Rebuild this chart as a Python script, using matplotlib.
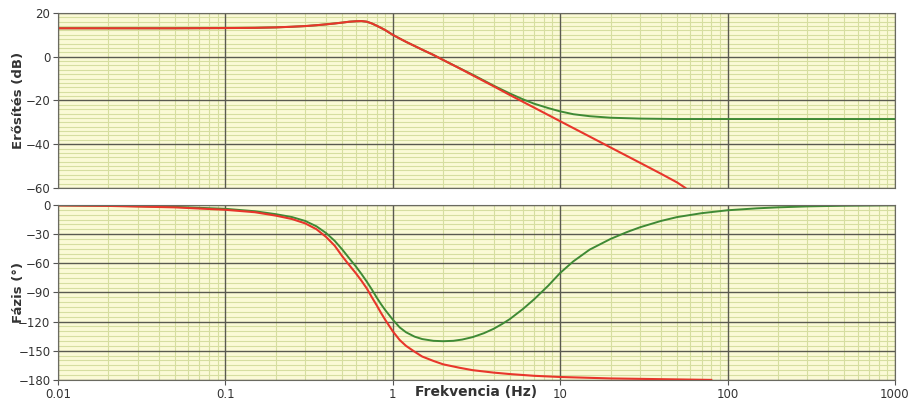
import numpy as np
import matplotlib.pyplot as plt
from matplotlib.ticker import MultipleLocator, LogLocator

# red curve
f_red = [0.01, 0.02, 0.05, 0.1, 0.15, 0.2, 0.25, 0.3, 0.35, 0.4, 0.45, 0.5, 0.55, 0.6, 0.65,
         0.7, 0.75, 0.8, 0.85, 0.9, 1.0, 1.1, 1.2, 1.35, 1.5, 1.75, 2, 2.5, 3, 4, 5, 7, 10,
         15, 20, 30, 40, 50, 56]
mag_red = [13, 13, 13, 13.1, 13.2, 13.4, 13.7, 14.0, 14.4, 14.8, 15.2, 15.6, 16.0, 16.2, 16.3,
           16.0, 15.2, 14.2, 13.2, 12.2, 10.0, 8.3, 6.8, 4.9, 3.2, 0.8, -1.5, -5.3, -8.5,
           -13.5, -17.5, -23.3, -29.5, -36.5, -41.5, -48.5, -53.5, -57.5, -60]

f_red_ph = [0.01, 0.02, 0.05, 0.1, 0.15, 0.2, 0.25, 0.3, 0.35, 0.4, 0.45, 0.5, 0.55, 0.6,
            0.65, 0.7, 0.75, 0.8, 0.85, 0.9, 1.0, 1.1, 1.2, 1.35, 1.5, 1.75, 2, 2.5, 3, 4,
            5, 7, 10, 20, 50, 80]
ph_red = [-0.5, -1, -2.5, -5, -7.5, -11, -14.5, -19, -25, -33, -42, -53, -62, -70,
          -78, -86, -95, -103, -111, -118, -130, -139, -145, -151, -156, -160.5, -164,
          -167.5, -170, -172.5, -174, -175.8, -177, -178.5, -179.5, -180]

# green curve
f_grn = [0.01, 0.02, 0.05, 0.1, 0.15, 0.2, 0.25, 0.3, 0.35, 0.4, 0.45, 0.5, 0.55, 0.6, 0.65,
         0.7, 0.75, 0.8, 0.85, 0.9, 1.0, 1.1, 1.2, 1.35, 1.5, 1.75, 2, 2.5, 3, 4, 5, 6, 7,
         8.5, 10, 12, 15, 20, 30, 50, 100, 200, 500, 1000]
mag_grn = [13, 13, 13, 13.1, 13.2, 13.4, 13.7, 14.0, 14.4, 14.8, 15.2, 15.6, 16.0, 16.2, 16.3,
           16.0, 15.2, 14.2, 13.2, 12.2, 10.0, 8.3, 6.8, 4.9, 3.2, 0.8, -1.5, -5.2, -8.2,
           -13.2, -16.8, -19.5, -21.5, -23.5, -25, -26.3, -27.2, -27.9, -28.3, -28.5,
           -28.5, -28.5, -28.5, -28.5]

f_grn_ph = [0.01, 0.02, 0.05, 0.1, 0.15, 0.2, 0.25, 0.3, 0.35, 0.4, 0.45, 0.5, 0.55, 0.6,
            0.65, 0.7, 0.75, 0.8, 0.85, 0.9, 1.0, 1.1, 1.2, 1.35, 1.5, 1.75, 2, 2.3, 2.6,
            3, 3.5, 4, 4.5, 5, 6, 7, 8.5, 10, 12, 15, 20, 25, 30, 40, 50, 70, 100, 150,
            200, 300, 500, 1000]
ph_grn = [-0.3, -0.8, -2, -4, -6.5, -9.5, -12.5, -16.5, -22, -29, -37, -46, -55, -63,
          -71, -79, -87, -95, -102, -108, -118, -126, -131, -135.5, -138, -139.8, -140.2,
          -139.8, -138.5, -136, -132, -127.5, -122.5, -117.5, -107, -97, -83, -70, -58,
          -46, -35, -28, -23, -16.5, -12.5, -8.5, -5.5, -3.5, -2.5, -1.5, -0.8, -0.3]

decades = [0.01, 0.1, 1, 10, 100, 1000]
db_ticks = [-60, -40, -20, 0, 20]
deg_ticks = [-180, -150, -120, -90, -60, -30, 0]

bg = '#fbfad6'
major_c = '#5a5a50'
minor_c = '#d6dea0'
red = '#e8362b'
green = '#3f8a35'

fig = plt.figure(figsize=(9.11, 4.05), dpi=100)
ax1 = fig.add_axes([0.0637, 0.536, 0.9186, 0.432])
ax2 = fig.add_axes([0.0637, 0.062, 0.9186, 0.432])

for ax, yt in ((ax1, db_ticks), (ax2, deg_ticks)):
    ax.set_facecolor(bg)
    ax.set_xscale('log')
    ax.set_xlim(0.01, 1000)
    ax.xaxis.set_minor_locator(LogLocator(base=10, subs=np.arange(2, 10), numticks=20))
    ax.grid(which='minor', color=minor_c, lw=0.8)
    ax.set_axisbelow(True)
    # major grid on top of the minor one
    for x in decades:
        ax.axvline(x, color=major_c, lw=1.0, zorder=1)
    for y in yt:
        ax.axhline(y, color=major_c, lw=1.0, zorder=1)
    ax.set_yticks(yt)
    ax.set_xticks(decades)
    for s in ax.spines.values():
        s.set_color('#6a6a60')
        s.set_zorder(3)
    ax.tick_params(which='both', colors='#555555', labelcolor='#333333', labelsize=8.5, pad=2)
    ax.tick_params(axis='x', which='minor', length=0)

ax1.plot(f_grn, mag_grn, color=green, lw=1.4, zorder=2)
ax1.plot(f_red, mag_red, color=red, lw=1.5, zorder=2)
ax1.set_ylim(-60, 20)
ax1.yaxis.set_minor_locator(MultipleLocator(2))
ax1.tick_params(axis='y', which='minor', length=0)
ax1.tick_params(axis='x', which='major', length=0, labelbottom=False)
ax1.set_ylabel('Erősítés (dB)', fontsize=9.5, fontweight='bold', color='#333333')
ax1.yaxis.set_label_coords(-0.04, 0.5)

ax2.plot(f_grn_ph, ph_grn, color=green, lw=1.4, zorder=2)
ax2.plot(f_red_ph, ph_red, color=red, lw=1.5, zorder=2)
ax2.set_ylim(-180, 0)
ax2.yaxis.set_minor_locator(MultipleLocator(5))
ax2.tick_params(axis='y', which='minor', length=0)
ax2.set_xticklabels(['0.01', '0.1', '1', '10', '100', '1000'])
ax2.set_ylabel('Fázis (°)', fontsize=9.5, fontweight='bold', color='#333333')
ax2.yaxis.set_label_coords(-0.04, 0.5)
ax2.set_xlabel('Frekvencia (Hz)', fontsize=10, fontweight='bold', color='#333333', labelpad=-11)

fig.savefig('out.png', dpi=100, facecolor='white')
